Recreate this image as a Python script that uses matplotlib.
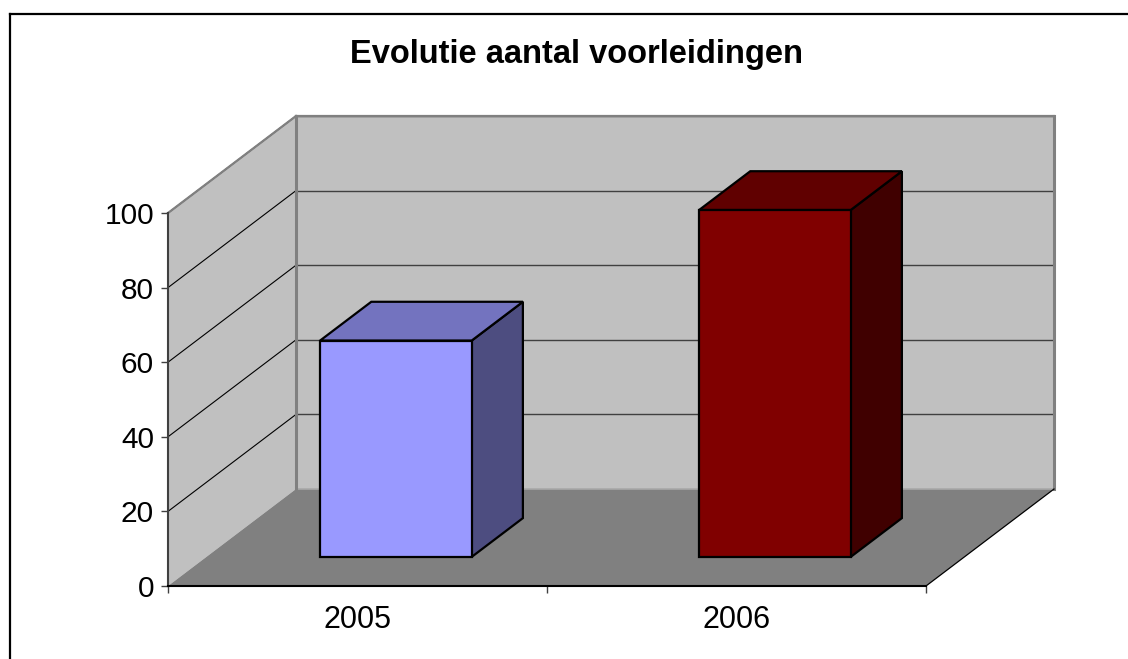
import matplotlib
matplotlib.use('Agg')
import matplotlib.pyplot as plt
from matplotlib.patches import Polygon
from matplotlib.lines import Line2D

plt.rcParams['font.family'] = ['Liberation Sans', 'DejaVu Sans']

# data
years = ['2005', '2006']
counts = [58, 93]
yticks = [0, 20, 40, 60, 80, 100]
front_cols = ['#9999FF', '#800000']
top_cols = ['#7373BF', '#600000']
side_cols = ['#4D4D80', '#400000']

# oblique depth offset (category units, value units) for full depth
DX = 0.3377
DY = 26.0


def proj(x, y, d):
    return (x + d * DX, y + d * DY)


W, H = 1128, 659
fig = plt.figure(figsize=(W / 100, H / 100), dpi=100)
ax = fig.add_axes([168 / W, (H - 586) / H, (926 - 168) / W, (586 - 213) / H])
ax.set_xlim(0, len(years))
ax.set_ylim(0, 100)
ax.patch.set_visible(False)

def poly(pts, fc, ec='none', lw=0, z=1):
    p = Polygon([proj(*q) for q in pts], closed=True, facecolor=fc,
                edgecolor=ec, linewidth=lw, clip_on=False, zorder=z)
    ax.add_patch(p)

n = len(years)
# walls and floor
poly([(0, 0, 1), (n, 0, 1), (n, 100, 1), (0, 100, 1)], '#C0C0C0', z=0.5)
poly([(0, 0, 0), (0, 0, 1), (0, 100, 1), (0, 100, 0)], '#C0C0C0', z=0.6)
poly([(0, 0, 0), (n, 0, 0), (n, 0, 1), (0, 0, 1)], '#808080', z=0.7)

# gridlines
for v in yticks[1:]:
    a, b = proj(0, v, 1), proj(n, v, 1)
    ax.plot([a[0], b[0]], [a[1], b[1]], color='#404040', lw=1, clip_on=False, zorder=0.55)
    c = proj(0, v, 0)
    ax.plot([c[0], a[0]], [c[1], a[1]], color='black', lw=0.8, clip_on=False, zorder=0.65)

# wall edges
def edge(p1, p2, col, lw, z):
    a, b = proj(*p1), proj(*p2)
    ax.plot([a[0], b[0]], [a[1], b[1]], color=col, lw=lw, clip_on=False, zorder=z,
            solid_capstyle='projecting')

edge((0, 100, 0), (0, 100, 1), '#808080', 1.6, 0.9)
edge((0, 100, 1), (n, 100, 1), '#808080', 1.6, 0.9)
edge((0, 0, 1), (0, 100, 1), '#808080', 2.2, 0.9)
edge((n, 0, 1), (n, 100, 1), '#808080', 2.2, 0.9)
edge((0, 0, 1), (n, 0, 1), '#A8A8A8', 1.2, 0.75)
edge((n, 0, 0), (n, 0, 1), 'black', 0.9, 0.9)

# bars
for i, v in enumerate(counts):
    x0, x1 = i + 0.3, i + 0.7
    d0, d1 = 0.3, 0.7
    poly([(x1, 0, d0), (x1, v, d0), (x1, v, d1), (x1, 0, d1)], side_cols[i], 'black', 1.6, 2)
    poly([(x0, v, d0), (x1, v, d0), (x1, v, d1), (x0, v, d1)], top_cols[i], 'black', 1.6, 2)
    poly([(x0, 0, d0), (x1, 0, d0), (x1, v, d0), (x0, v, d0)], front_cols[i], 'black', 1.6, 2)

# axes
for s in ['top', 'right']:
    ax.spines[s].set_visible(False)
ax.spines['left'].set_color('#404040')
ax.spines['left'].set_linewidth(1.5)
ax.spines['bottom'].set_color('black')
ax.spines['bottom'].set_linewidth(1.5)
ax.spines['left'].set_zorder(3)
ax.spines['bottom'].set_zorder(3)

ax.set_yticks(yticks)
ax.set_yticklabels([str(t) for t in yticks])
ax.tick_params(axis='y', direction='out', length=5, width=1, color='#404040',
               labelsize=21.5, pad=5)
ax.set_xticks(range(n + 1))
ax.set_xticklabels([''] * (n + 1))
ax.set_xticks([i + 0.5 for i in range(n)], minor=True)
ax.set_xticklabels(years, minor=True)
ax.tick_params(axis='x', which='major', direction='out', length=5, width=1, color='#404040')
ax.tick_params(axis='x', which='minor', length=0, labelsize=22, pad=14)

fig.text(576 / W, 1 - 54 / H, 'Evolutie aantal voorleidingen', ha='center', va='center',
         fontsize=23.5, fontweight='bold')

# chart border
fig.add_artist(Line2D([10 / W, 1], [1 - 14 / H, 1 - 14 / H], color='black', lw=1.6))
fig.add_artist(Line2D([10 / W, 10 / W], [0, 1 - 14 / H], color='black', lw=1.6))

fig.savefig('out.png', dpi=100)
